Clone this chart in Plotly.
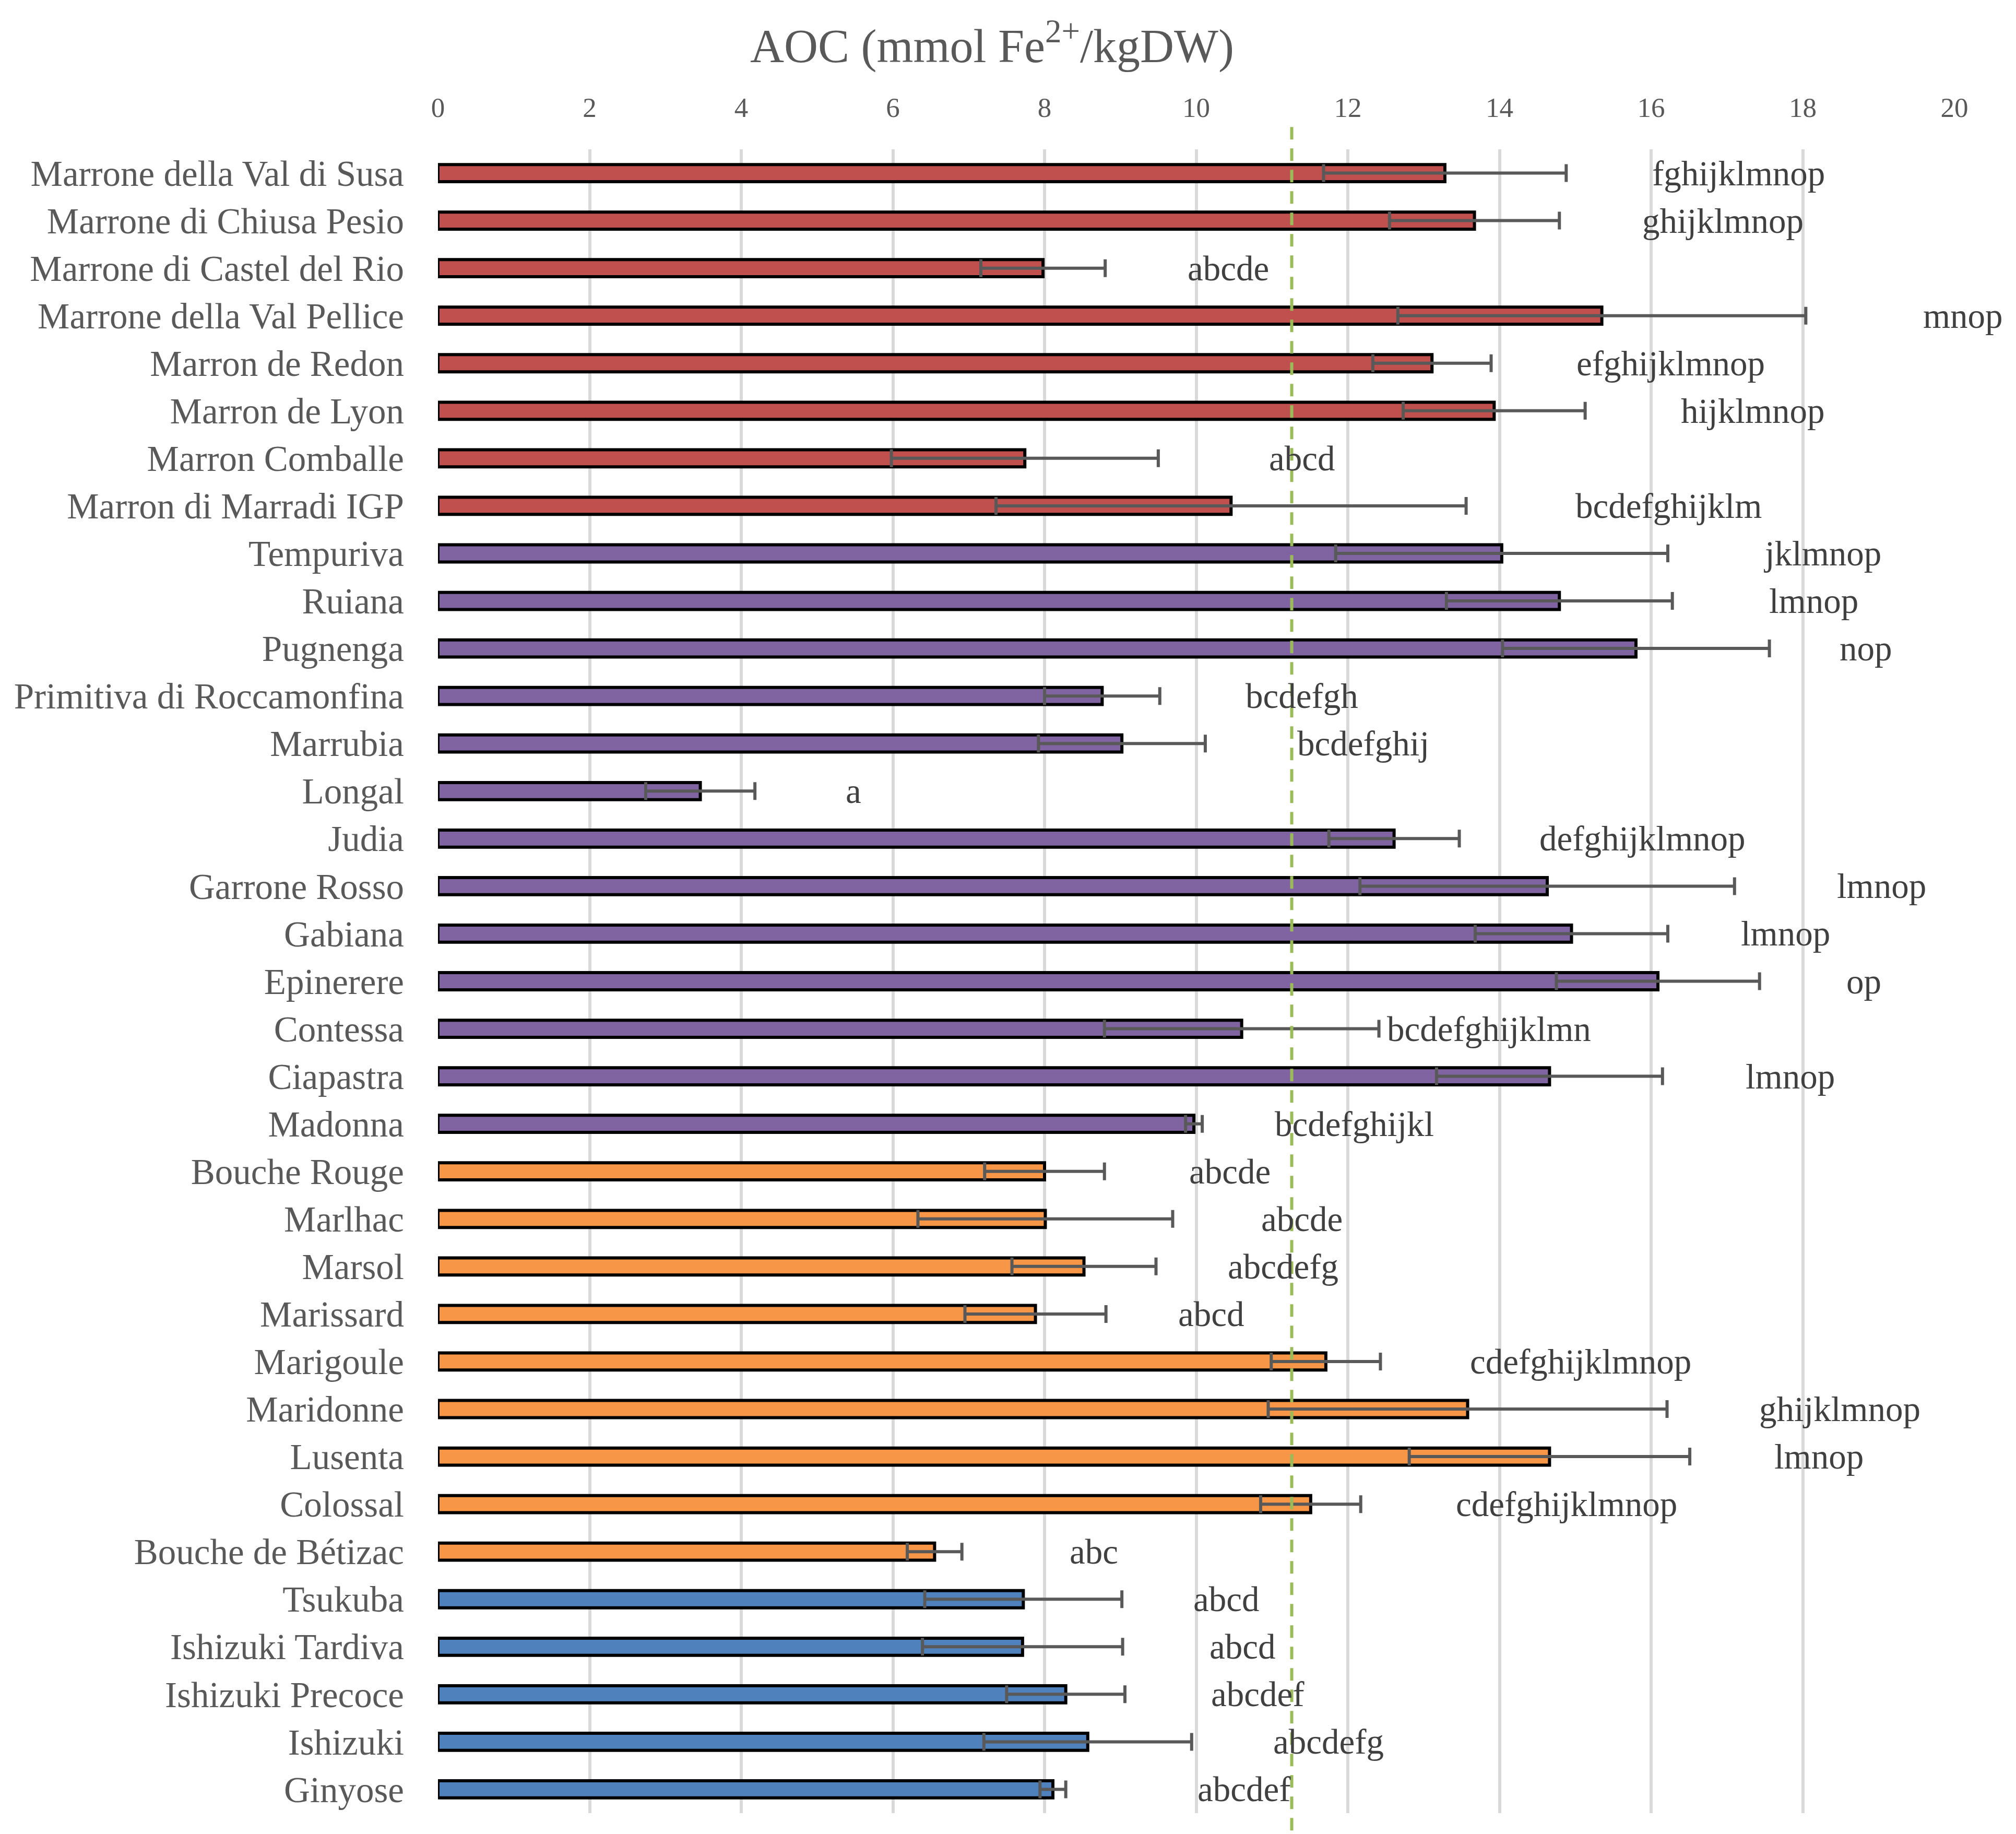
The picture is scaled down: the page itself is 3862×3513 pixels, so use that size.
import plotly.graph_objects as go

# ---------------------------------------------------------------- data
CULTIVARS = [
    "Marrone della Val di Susa", "Marrone di Chiusa Pesio", "Marrone di Castel del Rio",
    "Marrone della Val Pellice", "Marron de Redon", "Marron de Lyon", "Marron Comballe",
    "Marron di Marradi IGP",
    "Tempuriva", "Ruiana", "Pugnenga", "Primitiva di Roccamonfina", "Marrubia", "Longal",
    "Judia", "Garrone Rosso", "Gabiana", "Epinerere", "Contessa", "Ciapastra", "Madonna",
    "Bouche Rouge", "Marlhac", "Marsol", "Marissard", "Marigoule", "Maridonne", "Lusenta",
    "Colossal", "Bouche de Bétizac",
    "Tsukuba", "Ishizuki Tardiva", "Ishizuki Precoce", "Ishizuki", "Ginyose",
]
GROUPS = (["marrone"] * 8 + ["sativa"] * 13 + ["hybrid"] * 9 + ["crenata"] * 5)

AOC_MEAN = [13.28, 13.67, 7.98, 15.35, 13.11, 13.93, 7.74, 10.46,
            14.03, 14.79, 15.80, 8.76, 9.02, 3.46, 12.61, 14.63, 14.95, 16.09, 10.60, 14.66, 9.97,
            8.00, 8.01, 8.52, 7.88, 11.71, 13.58, 14.66, 11.51, 6.55,
            7.72, 7.71, 8.28, 8.57, 8.11]
AOC_SD = [1.60, 1.12, 0.82, 2.69, 0.78, 1.20, 1.76, 3.10,
          2.19, 1.49, 1.76, 0.76, 1.10, 0.72, 0.86, 2.47, 1.27, 1.34, 1.81, 1.49, 0.11,
          0.79, 1.68, 0.95, 0.93, 0.72, 2.63, 1.85, 0.66, 0.36,
          1.30, 1.32, 0.78, 1.37, 0.17]

LETTERS = ["fghijklmnop", "ghijklmnop", "abcde", "mnop", "efghijklmnop", "hijklmnop", "abcd",
           "bcdefghijklm",
           "jklmnop", "lmnop", "nop", "bcdefgh", "bcdefghij", "a", "defghijklmnop", "lmnop",
           "lmnop", "op", "bcdefghijklmn", "lmnop", "bcdefghijkl",
           "abcde", "abcde", "abcdefg", "abcd", "cdefghijklmnop", "ghijklmnop", "lmnop",
           "cdefghijklmnop", "abc",
           "abcd", "abcd", "abcdef", "abcdefg", "abcdef"]
# where each letter group starts (x, same units as the axis)
LETTER_X = [16.0, 15.87, 9.87, 19.57, 15.0, 16.38, 10.95, 14.99,
            17.47, 17.54, 18.47, 10.64, 11.32, 5.36, 14.51, 18.44, 17.17, 18.56, 12.50, 17.23, 11.02,
            9.89, 10.84, 10.40, 9.75, 13.60, 17.41, 17.61, 13.41, 8.32,
            9.95, 10.16, 10.18, 11.0, 10.0]

REF_LINE = 11.26
X_TICKS = list(range(0, 21, 2))

# ---------------------------------------------------------------- style
GROUP_COLORS = {"marrone": "#C0504D", "sativa": "#8064A2",
                "hybrid": "#F79646", "crenata": "#4F81BD"}
FONT = "Liberation Serif, Times New Roman, serif"
GREY = "#595959"

fig = go.Figure(go.Bar(
    x=AOC_MEAN, y=CULTIVARS, orientation="h",
    marker=dict(color=[GROUP_COLORS[g] for g in GROUPS],
                line=dict(color="black", width=6)),
    error_x=dict(type="data", array=AOC_SD, color=GREY, thickness=6, width=17),
    hoverinfo="x+y",
))

for name, txt, lx in zip(CULTIVARS, LETTERS, LETTER_X):
    fig.add_annotation(x=lx, y=name, text=txt, showarrow=False,
                       xanchor="left", yanchor="middle", xref="x", yref="y",
                       font=dict(family=FONT, size=67, color="#404040"))

fig.add_shape(type="line", xref="x", yref="paper",
              x0=REF_LINE, x1=REF_LINE, y0=-0.0104, y1=1.0176,
              line=dict(color="#9BBB59", width=6, dash="24px,17px"), layer="above")

# the page body adds an 8px offset, so the margins are shifted by 8 to compensate
fig.update_layout(
    width=3862, height=3513, autosize=False,
    margin=dict(l=831, r=126, t=278, b=48),
    paper_bgcolor="white", plot_bgcolor="white",
    showlegend=False, bargap=0.64,
    font=dict(family=FONT, color=GREY),
    title=dict(text="AOC (mmol Fe<sup>2+</sup>/kgDW)", xref="container", x=0.49,
               xanchor="center", y=0.9775, yanchor="middle",
               font=dict(family=FONT, size=90, color=GREY)),
    xaxis=dict(side="top", range=[0, 20], tickvals=X_TICKS, showgrid=True,
               gridcolor="#D9D9D9", gridwidth=6, zeroline=False, showline=False,
               ticks="", ticklabelstandoff=50,
               tickfont=dict(family=FONT, size=53, color=GREY)),
    yaxis=dict(type="category", autorange="reversed", showgrid=False, zeroline=False,
               showline=False, ticks="", ticklabelstandoff=64,
               tickfont=dict(family=FONT, size=69, color=GREY)),
)

fig.write_html("out.html")
